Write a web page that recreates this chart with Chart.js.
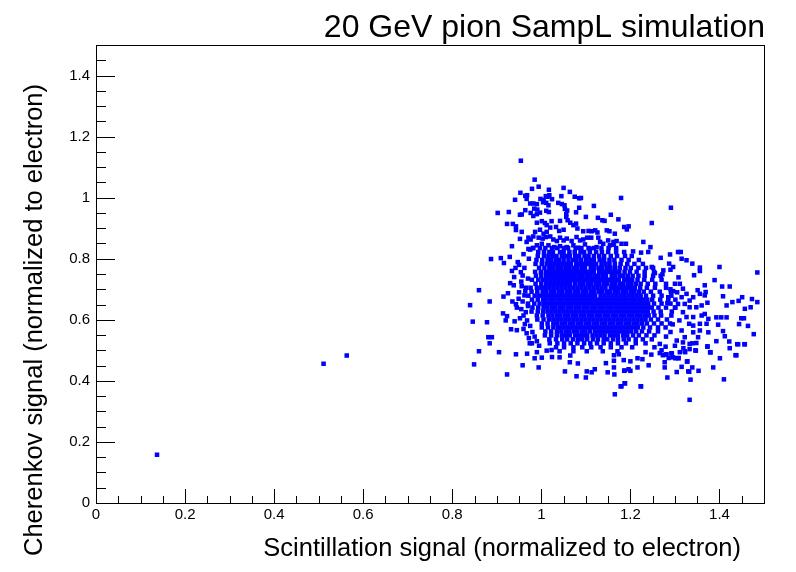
<!DOCTYPE html>
<html>
<head>
<meta charset="utf-8">
<script src="https://cdn.jsdelivr.net/npm/chart.js@4.4.1/dist/chart.umd.min.js"></script>
<style>
  html, body { margin: 0; padding: 0; background: #fff; }
  canvas { display: block; }
</style>
</head>
<body>
<canvas id="scatter" width="796" height="572"></canvas>
<script>
// [scintillation, cherenkov]
const strayEvents = [
  [0.137, 0.158], [0.511, 0.456], [0.563, 0.483]
];

const haloEvents = [
  [0.954,1.121],[0.985,1.059],[0.994,1.036],[0.979,1.029],[1.017,1.026],[1.050,1.032],[1.064,1.019],
  [0.953,1.016],[0.964,1.006],[0.968,1.008],[0.967,0.996],[1.010,1.005],[1.014,1.003],[1.018,1.008],
  [1.024,0.995],[1.045,1.005],[1.075,1.003],[1.085,0.998],[1.089,0.999],[1.179,0.999],[0.941,0.993],
  [0.998,0.996],[1.005,0.992],
  [0.975,0.981],[0.982,0.981],[0.990,0.979],[1.004,0.985],[1.011,0.983],[1.016,0.975],[1.038,0.983],
  [1.046,0.979],[1.052,0.975],[1.118,0.973],[1.085,0.967],[1.078,0.952],[1.058,0.958],[1.053,0.963],
  [0.984,0.964],[0.964,0.959],[0.991,0.961],[1.011,0.957],[0.902,0.950],[0.927,0.953],[0.952,0.944],
  [0.956,0.945],[0.976,0.950],[0.982,0.940],[0.990,0.946],[0.997,0.951],[1.017,0.953],[1.291,0.967],
  [1.156,0.944],[1.056,0.946],
  [1.100,0.937],[1.127,0.934],[1.137,0.926],[1.142,0.924],[1.173,0.929],[0.923,0.914],[0.936,0.914],
  [0.943,0.906],[0.943,0.894],[0.956,0.888],[0.990,0.918],[1.001,0.923],[1.008,0.917],[1.023,0.923],
  [1.012,0.910],[1.020,0.902],[1.033,0.904],[0.997,0.895],[0.986,0.888],[1.056,0.937],[1.059,0.926],
  [1.065,0.918],[1.072,0.910],[1.078,0.915],[1.081,0.899],[1.094,0.890],[1.106,0.891],[1.113,0.890],
  [1.121,0.893],[1.126,0.886],[1.147,0.893],[1.153,0.890],[1.165,0.882],[1.248,0.917],[1.186,0.904],
  [1.192,0.896],[1.196,0.906],[1.050,0.895],[1.040,0.891],[1.012,0.888],[1.005,0.882],[1.042,0.924],
  [0.952,0.865],[0.934,0.841],[0.971,0.869],[0.976,0.863],[0.982,0.873],[0.994,0.869],[1.003,0.866],
  [1.010,0.871],[1.020,0.873],[1.027,0.863],[1.035,0.858],[1.042,0.869],[1.050,0.860],[1.057,0.866],
  [1.068,0.858],[1.079,0.871],[1.087,0.860],[1.094,0.863],[1.103,0.869],[1.112,0.869],[1.128,0.869],
  [1.132,0.855],[1.139,0.849],[1.150,0.860],[1.162,0.855],[1.169,0.858],[1.180,0.849],[1.190,0.849],
  [1.229,0.855],[1.245,0.838],[0.967,0.855],[0.990,0.844],[1.001,0.849],[1.016,0.844],[1.029,0.838],
  [1.042,0.841],[1.057,0.838],[1.072,0.844],[1.083,0.836],[1.098,0.847],[1.109,0.832],[1.124,0.838],
  [1.154,0.844],[1.163,0.846],[0.971,0.832],[0.982,0.835],
  [1.206,0.824],[1.224,0.820],[1.240,0.822],[1.268,0.803],[1.289,0.814],[1.307,0.822],[1.313,0.822],
  [1.315,0.800],[1.326,0.795],[1.339,0.784],[1.356,0.771],[1.356,0.760],[1.400,0.773],[1.485,0.755],
  [1.287,0.784],[1.296,0.773],[1.290,0.764],[1.274,0.762],[1.248,0.773],[1.255,0.753],[1.272,0.749],
  [1.308,0.739],[1.343,0.746],[1.367,0.713],[1.389,0.730],[1.406,0.709],[1.423,0.709],[1.351,0.697],
  [1.369,0.691],[1.408,0.677],[1.443,0.662],[1.473,0.668],[1.485,0.658],[1.451,0.674],[1.429,0.658],
  [1.416,0.647],[1.457,0.636],[1.470,0.641],[1.393,0.608],[1.404,0.608],[1.416,0.608],[1.449,0.605],
  [1.455,0.605],[1.464,0.580],[1.444,0.586],[1.477,0.553],[1.457,0.520],[1.442,0.520],[1.423,0.507],
  [1.436,0.484],[1.422,0.529],[1.412,0.546],[1.408,0.563],[1.397,0.584],[1.375,0.603],[1.371,0.587],
  [1.375,0.559],[1.356,0.565],[1.352,0.543],[1.348,0.524],[1.339,0.523],[1.333,0.504],[1.347,0.499],
  [1.327,0.463],[1.315,0.446],[1.332,0.430],[1.353,0.433],[1.386,0.444],[1.401,0.474],[1.380,0.493],
  [1.373,0.512],[1.335,0.404],[1.333,0.338],[1.410,0.405],[1.304,0.429],[1.283,0.411],[1.241,0.451],
  [1.224,0.382],[1.188,0.392],[1.180,0.382],[1.165,0.356],[1.200,0.433],[1.186,0.433],[1.164,0.421],
  [1.149,0.428],[1.120,0.438],[1.102,0.431],[1.113,0.428],[1.079,0.415],[1.100,0.411],[1.053,0.431],
  [1.082,0.457],[1.064,0.461],[0.994,0.444],[0.958,0.451],[0.923,0.421],[0.860,0.497],[0.849,0.454],
  [0.905,0.494],[0.943,0.487],[0.968,0.489],[0.985,0.474],[1.001,0.476],[1.024,0.478],[1.041,0.477],
  [1.065,0.483],[0.840,0.648],[0.846,0.594],[0.878,0.592],[0.884,0.660],[0.860,0.697],[0.881,0.543],
  [0.889,0.543],[0.884,0.523],[0.932,0.569],[0.945,0.566],[0.915,0.676],[0.914,0.621],[0.923,0.612],
  [0.920,0.598],[0.943,0.651],[0.925,0.687],[0.909,0.802],[0.887,0.799],[0.929,0.806],[0.916,0.786],
  [0.934,0.760],[0.954,0.756],[0.947,0.789],[0.939,0.740],[0.938,0.713],[0.956,0.710],[0.964,0.694],
  [0.949,0.669],[0.955,0.635],[0.960,0.614],[0.963,0.586],[0.967,0.556],[0.974,0.523],[0.979,0.523],
  [0.990,0.494],[1.012,0.499],[1.023,0.501],[1.234,0.494],[1.266,0.491],[1.280,0.486],[1.286,0.475],
  [1.296,0.477],[1.308,0.475],[1.311,0.494],[1.322,0.497],[1.333,0.521],[1.293,0.490],[1.277,0.461],
  [1.247,0.486],[1.254,0.510],[1.266,0.521],[1.279,0.512],[1.304,0.532],[1.318,0.526],[1.322,0.543],
  [1.341,0.559],[1.332,0.587],[1.341,0.581],[1.356,0.587],[1.367,0.619],[1.360,0.614],[1.348,0.641],
  [1.333,0.641],[1.326,0.609],[1.341,0.609],[1.360,0.647],[1.373,0.656],[1.367,0.680],[1.356,0.685],
  [1.341,0.674],[1.333,0.663],[1.326,0.685],[1.318,0.702],[1.311,0.718],[1.300,0.718],[1.296,0.694],
  [1.285,0.674],[1.307,0.652],[1.315,0.674],[1.322,0.652],
  [1.145,0.458],[1.163,0.444],[1.277,0.444],[1.216,0.444],[1.187,0.434],[1.196,0.438],[1.187,0.392],
  [1.178,0.382],[1.223,0.382],[1.330,0.431],[1.339,0.444],[1.328,0.464],[1.379,0.494],[1.373,0.513],
  [1.438,0.484],[1.393,0.530],[1.440,0.520],[1.456,0.520],[1.301,0.474],[1.308,0.474],[1.292,0.490],
  [1.281,0.487],[1.273,0.484],[1.319,0.507],[1.323,0.494],[1.346,0.500],[1.216,0.474],[1.227,0.471],
  [1.174,0.487],[1.163,0.484],[1.163,0.466],[1.185,0.468],[1.200,0.464],
  [1.290,0.700],[1.305,0.690],[1.283,0.655],[1.300,0.640],[1.318,0.625],[1.310,0.598],[1.295,0.585],
  [1.315,0.565],[1.290,0.560],[1.280,0.545],[1.300,0.515],[1.270,0.500],
  [0.950,0.780],[0.962,0.770],[0.958,0.745],[0.970,0.735],[0.955,0.725],[0.966,0.705],[0.950,0.690],
  [0.962,0.680],[0.958,0.660],[0.970,0.645],[0.945,0.640],[0.965,0.625],[0.952,0.605],[0.968,0.598],
  [0.975,0.580],[0.960,0.570],[0.980,0.560],[0.985,0.545],[0.972,0.540],[0.990,0.530],[0.995,0.515],
  [0.940,0.595],[0.935,0.660],[0.930,0.720],[0.942,0.770],[0.972,0.800],[0.960,0.815],[0.975,0.830]
];

// the crowded middle of the cloud, row by row: [cherenkov, scintillation values]
const coreRows = [
  [0.835, [0.981,0.997,1.009,1.024,1.036,1.051,1.060,1.077,1.090,1.106,1.118,1.135,1.151,1.168]],
  [0.822, [0.993,1.006,1.018,1.026,1.042,1.050,1.063,1.075,1.088,1.096,1.109,1.123,1.136,1.150,1.168,1.186]],
  [0.809, [0.992,1.006,1.016,1.025,1.034,1.046,1.055,1.064,1.076,1.085,1.097,1.106,1.118,1.130,1.141,1.156,
           1.170,1.188,1.203]],
  [0.796, [0.989,1.002,1.014,1.022,1.032,1.040,1.050,1.061,1.071,1.079,1.089,1.100,1.110,1.118,1.131,1.141,
           1.153,1.164,1.180,1.196,1.219]],
  [0.783, [0.987,1.001,1.012,1.021,1.030,1.039,1.048,1.057,1.066,1.078,1.087,1.096,1.105,1.114,1.123,1.135,
           1.144,1.153,1.165,1.178,1.193,1.209,1.228]],
  [0.770, [0.995,1.007,1.018,1.026,1.036,1.044,1.054,1.062,1.072,1.080,1.090,1.098,1.111,1.119,1.129,1.137,
           1.147,1.155,1.165,1.176,1.189,1.201,1.218,1.235,1.251]],
  [0.757, [0.986,0.999,1.010,1.019,1.028,1.037,1.046,1.055,1.064,1.073,1.082,1.091,1.100,1.109,1.118,1.130,
           1.139,1.148,1.157,1.166,1.175,1.187,1.199,1.214,1.232,1.253]],
  [0.744, [0.988,1.000,1.011,1.019,1.029,1.037,1.047,1.055,1.065,1.073,1.083,1.091,1.101,1.109,1.119,1.127,
           1.137,1.145,1.158,1.166,1.176,1.184,1.194,1.205,1.218,1.232,1.251,1.268]],
  [0.731, [0.979,0.993,1.003,1.012,1.021,1.030,1.039,1.048,1.057,1.066,1.075,1.084,1.093,1.102,1.111,1.120,
           1.129,1.138,1.147,1.156,1.165,1.174,1.186,1.195,1.204,1.216,1.231,1.249,1.270]],
  [0.718, [0.987,1.000,1.011,1.019,1.029,1.037,1.047,1.055,1.065,1.076,1.086,1.094,1.104,1.112,1.122,1.130,
           1.140,1.148,1.158,1.166,1.176,1.184,1.194,1.202,1.212,1.223,1.239,1.256,1.280]],
  [0.705, [0.976,0.990,1.000,1.009,1.018,1.027,1.036,1.045,1.054,1.063,1.072,1.081,1.090,1.099,1.108,1.117,
           1.126,1.135,1.144,1.156,1.165,1.174,1.183,1.192,1.201,1.210,1.222,1.237,1.255,1.280]],
  [0.692, [0.978,0.991,1.003,1.011,1.021,1.029,1.039,1.047,1.057,1.065,1.075,1.083,1.093,1.101,1.111,1.119,
           1.129,1.137,1.147,1.155,1.165,1.173,1.183,1.191,1.201,1.209,1.219,1.230,1.246,1.266,1.291]],
  [0.679, [0.971,0.985,0.995,1.004,1.013,1.022,1.031,1.040,1.049,1.058,1.067,1.076,1.085,1.094,1.103,1.112,
           1.121,1.133,1.142,1.151,1.160,1.169,1.178,1.187,1.196,1.205,1.214,1.223,1.235,1.251,1.270,1.292]],
  [0.666, [0.979,0.992,1.004,1.012,1.022,1.030,1.040,1.048,1.058,1.066,1.076,1.084,1.094,1.102,1.112,1.120,
           1.130,1.138,1.148,1.156,1.166,1.174,1.184,1.192,1.202,1.210,1.220,1.228,1.238,1.249,1.267,1.285,1.301]],
  [0.653, [0.970,0.984,0.996,1.006,1.015,1.024,1.033,1.042,1.051,1.060,1.069,1.078,1.087,1.096,1.105,1.114,
           1.123,1.132,1.141,1.150,1.159,1.168,1.177,1.186,1.195,1.204,1.213,1.222,1.231,1.240,1.253,1.270,1.290]],
  [0.640, [0.980,0.993,1.005,1.014,1.024,1.032,1.042,1.050,1.060,1.068,1.078,1.086,1.096,1.104,1.114,1.122,
           1.132,1.140,1.150,1.158,1.168,1.176,1.186,1.194,1.204,1.212,1.222,1.230,1.240,1.248,1.263,1.280,1.301]],
  [0.627, [0.978,0.992,1.004,1.014,1.023,1.032,1.041,1.050,1.059,1.068,1.077,1.086,1.095,1.104,1.113,1.122,
           1.131,1.140,1.149,1.158,1.167,1.176,1.185,1.194,1.203,1.212,1.221,1.230,1.239,1.252,1.268,1.293]],
  [0.614, [0.990,1.003,1.016,1.025,1.035,1.043,1.053,1.061,1.071,1.079,1.089,1.097,1.107,1.115,1.125,1.133,
           1.143,1.151,1.161,1.169,1.179,1.187,1.197,1.205,1.215,1.223,1.233,1.241,1.254,1.269,1.292]],
  [0.601, [0.991,1.005,1.017,1.027,1.036,1.045,1.054,1.063,1.072,1.081,1.090,1.099,1.108,1.117,1.126,1.135,
           1.144,1.153,1.162,1.171,1.180,1.189,1.198,1.207,1.216,1.225,1.234,1.246,1.262,1.282]],
  [0.588, [1.001,1.014,1.027,1.036,1.046,1.054,1.064,1.072,1.082,1.090,1.100,1.108,1.118,1.126,1.136,1.144,
           1.154,1.162,1.172,1.180,1.190,1.198,1.208,1.216,1.226,1.237,1.253,1.270,1.289]],
  [0.575, [1.001,1.015,1.027,1.037,1.046,1.055,1.064,1.073,1.082,1.091,1.100,1.109,1.118,1.127,1.136,1.145,
           1.154,1.163,1.172,1.181,1.190,1.199,1.208,1.217,1.229,1.244,1.262,1.279]],
  [0.562, [1.009,1.022,1.035,1.045,1.055,1.063,1.073,1.081,1.091,1.099,1.109,1.120,1.130,1.138,1.148,1.156,
           1.166,1.174,1.184,1.192,1.202,1.213,1.226,1.242,1.262]],
  [0.549, [1.008,1.022,1.035,1.046,1.055,1.064,1.076,1.085,1.094,1.103,1.115,1.124,1.133,1.142,1.154,1.163,
           1.172,1.184,1.193,1.206,1.219,1.236,1.254]],
  [0.536, [1.018,1.033,1.047,1.058,1.071,1.082,1.092,1.103,1.116,1.127,1.140,1.148,1.161,1.172,1.185,1.196,
           1.212,1.228,1.248]],
  [0.523, [1.019,1.036,1.051,1.066,1.081,1.096,1.110,1.125,1.140,1.156,1.172,1.190,1.212,1.234]],
  [0.510, [1.033,1.051,1.072,1.092,1.112,1.133,1.156,1.180,1.204]],
  [0.497, [1.041,1.072,1.102,1.138,1.171]]
];

const xTickLabels = [0, 0.2, 0.4, 0.6, 0.8, 1, 1.2, 1.4];
const yTickLabels = [0, 0.2, 0.4, 0.6, 0.8, 1, 1.2, 1.4];

const titleText = "20 GeV pion SampL simulation";
const xTitle = "Scintillation signal (normalized to electron)";
const yTitle = "Cherenkov signal (normalized to electron)";

const FONT = "'Liberation Sans', Arial, Helvetica, sans-serif";

const coreEvents = coreRows.flatMap(([cy, xs]) => xs.map(cx => [cx, cy]));
const events = strayEvents.concat(haloEvents, coreEvents).map(p => ({ x: p[0], y: p[1] }));

// ROOT-like frame: box all round, ticks pointing inward, titles right-aligned
const rootFrame = {
  id: 'rootFrame',
  afterDraw(chart) {
    const ctx = chart.ctx;
    const a = chart.chartArea;
    const xs = chart.scales.x, ys = chart.scales.y;
    ctx.save();
    ctx.strokeStyle = '#000';
    ctx.lineWidth = 1;
    ctx.strokeRect(Math.round(a.left) + 0.5, Math.round(a.top) + 0.5,
                   Math.round(a.right - a.left), Math.round(a.bottom - a.top));
    ctx.beginPath();
    for (let i = 1; i < 30; i++) {
      const v = i * 0.05;
      const px = Math.round(xs.getPixelForValue(v)) + 0.5;
      const len = i % 4 === 0 ? 14 : 7;
      ctx.moveTo(px, a.bottom);
      ctx.lineTo(px, a.bottom - len);
      const py = Math.round(ys.getPixelForValue(v)) + 0.5;
      const ylen = i % 4 === 0 ? 19 : 10;
      ctx.moveTo(a.left, py);
      ctx.lineTo(a.left + ylen, py);
    }
    ctx.stroke();

    ctx.fillStyle = '#000';
    ctx.textBaseline = 'alphabetic';
    ctx.textAlign = 'right';
    ctx.font = '32px ' + FONT;
    ctx.fillText(titleText, 765, 37);
    ctx.font = '25.5px ' + FONT;
    ctx.fillText(xTitle, 741, 556);
    ctx.translate(42, 84);
    ctx.rotate(-Math.PI / 2);
    ctx.fillText(yTitle, 0, 0);
    ctx.restore();
  }
};

const fmt = v => String(Math.round(v * 10) / 10);

new Chart(document.getElementById('scatter'), {
  type: 'scatter',
  data: {
    datasets: [{
      data: events,
      backgroundColor: '#0000ff',
      borderWidth: 0,
      pointStyle: 'rect',
      pointRadius: 3.2,
      pointHoverRadius: 3.2
    }]
  },
  options: {
    responsive: false,
    animation: false,
    devicePixelRatio: 1,
    layout: { padding: { top: 45, right: 32, left: 0, bottom: 0 } },
    plugins: { legend: { display: false }, tooltip: { enabled: false } },
    scales: {
      x: {
        type: 'linear', min: 0, max: 1.5,
        afterFit: s => { s.height = 69; },
        afterBuildTicks: s => { s.ticks = xTickLabels.map(v => ({ value: v })); },
        grid: { display: false, drawTicks: false },
        border: { display: false },
        ticks: { color: '#000', font: { family: FONT, size: 15 }, padding: 3,
                 maxRotation: 0, autoSkip: false, callback: fmt }
      },
      y: {
        type: 'linear', min: 0, max: 1.5,
        afterFit: s => { s.width = 96; },
        afterBuildTicks: s => { s.ticks = yTickLabels.map(v => ({ value: v })); },
        grid: { display: false, drawTicks: false },
        border: { display: false },
        ticks: { color: '#000', font: { family: FONT, size: 15 }, padding: 6,
                 autoSkip: false, callback: fmt }
      }
    }
  },
  plugins: [rootFrame]
});
</script>
</body>
</html>
